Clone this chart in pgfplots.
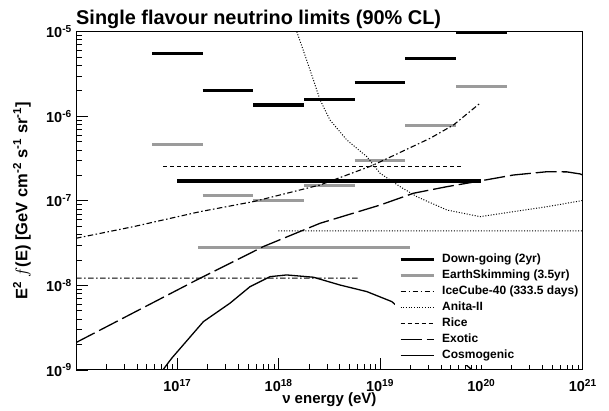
\documentclass[border=0pt]{standalone}
\usepackage{fontspec}
\setmainfont{Liberation Sans}
\usepackage{pgfplots}
\pgfplotsset{compat=1.18}
\definecolor{esgray}{RGB}{155,155,155}
\newcommand\lf{\bfseries\fontsize{12}{14}\selectfont}
\begin{document}
\begin{tikzpicture}
\begin{axis}[
  set layers,
  xmode=log, ymode=log,
  scale only axis, width=506.7pt, height=338.3pt,
  xmin=1e16, xmax=1e21, ymin=1e-9, ymax=1e-5,
  xtick={1e16,1e17,1e18,1e19,1e20,1e21},
  xticklabels={,10\textsuperscript{17},10\textsuperscript{18},10\textsuperscript{19},10\textsuperscript{20},10\textsuperscript{21}},
  ytick={1e-9,1e-8,1e-7,1e-6,1e-5},
  yticklabels={10\textsuperscript{-9},10\textsuperscript{-8},10\textsuperscript{-7},10\textsuperscript{-6},10\textsuperscript{-5}},
  tick align=inside, tick pos=left,
  major tick length=12pt, minor tick length=6pt,
  every tick/.style={black, line width=0.8pt},
  axis line style={line width=1pt},
  tick label style={font=\bfseries\fontsize{14.5}{16}\selectfont},
  xticklabel style={anchor=base, inner sep=0pt, yshift=-21.7pt},
  yticklabel style={anchor=east, inner sep=0pt, xshift=-4pt},
  title={Single flavour neutrino limits (90\% CL)},
  title style={at={(0,1)}, anchor=base west, inner sep=0pt, yshift=1.5pt, font=\bfseries\fontsize{19.9}{22}\selectfont},
  xlabel={ν energy (eV)},
  xlabel style={at={(axis description cs:0.5,0)}, anchor=base, inner sep=0pt, yshift=-34pt, font=\bfseries\fontsize{15}{17}\selectfont},
  ylabel={E\textsuperscript{2} $f$(E) [GeV cm\textsuperscript{-2} s\textsuperscript{-1} sr\textsuperscript{-1}]},
  ylabel style={at={(axis description cs:-0.1066,0.5)}, anchor=center, inner sep=0pt, font=\bfseries\fontsize{16.5}{18}\selectfont},
  unbounded coords=jump,
  legend image code/.code={\draw[#1] (0pt,0pt) -- (33pt,0pt);},
  legend style={at={(0.629,0.355)}, anchor=north west, fill=white, draw=none,
    inner sep=4pt, row sep=4.4pt, column sep=7pt,
    font=\lf,
    nodes={inner sep=0pt, text height=8.8pt, text depth=2.7pt}},
  legend cell align=left,
]
% Down-going (2yr)
\addplot[black, line width=3.3pt] coordinates {
 (5.6234e16,5.56e-6) (1.7783e17,5.56e-6) (1.7783e17,nan)
 (1.7783e17,2.01e-6) (5.6234e17,2.01e-6) (5.6234e17,nan)
 (5.6234e17,1.36e-6) (1.7783e18,1.36e-6) (1.7783e18,nan)
 (1.7783e18,1.59e-6) (5.6234e18,1.59e-6) (5.6234e18,nan)
 (5.6234e18,2.52e-6) (1.7783e19,2.52e-6) (1.7783e19,nan)
 (1.7783e19,4.84e-6) (5.6234e19,4.84e-6) (5.6234e19,nan)
 (5.6234e19,9.8e-6) (1.7783e20,9.8e-6) (1.7783e20,nan)
 (1e17,1.72e-7) (1e20,1.72e-7)
};
\addlegendentry{\lf Down-going (2yr)}
% EarthSkimming (3.5yr)
\addplot[esgray, line width=3pt] coordinates {
 (5.6234e16,4.6e-7) (1.7783e17,4.6e-7) (1.7783e17,nan)
 (1.7783e17,1.16e-7) (5.6234e17,1.16e-7) (5.6234e17,nan)
 (5.6234e17,1.0e-7) (1.7783e18,1.0e-7) (1.7783e18,nan)
 (1.7783e18,1.5e-7) (5.6234e18,1.5e-7) (5.6234e18,nan)
 (5.6234e18,3.04e-7) (1.7783e19,3.04e-7) (1.7783e19,nan)
 (1.7783e19,7.7e-7) (5.6234e19,7.7e-7) (5.6234e19,nan)
 (5.6234e19,2.24e-6) (1.7783e20,2.24e-6) (1.7783e20,nan)
 (1.61e17,2.8e-8) (1.98e19,2.8e-8)
};
\addlegendentry{\lf EarthSkimming (3.5yr)}
% IceCube-40
\addplot[black, line width=1.1pt, dash pattern=on 5.5pt off 2.5pt on 1.5pt off 2.5pt] coordinates {
 (1e16,3.61e-8) (3.68e16,4.95e-8) (1.675e17,7.45e-8) (5.62e17,9.79e-8)
 (2.56e18,1.54e-7) (8.3e18,2.6e-7) (3.13e19,5.5e-7) (5.31e19,7.89e-7) (9.73e19,1.43e-6)
 (9.73e19,nan)
 (1e16,1.22e-8) (6.3e18,1.22e-8)
};
\addlegendentry{\lf IceCube-40 (333.5 days)\hspace{6pt}}
% Anita-II
\addplot[black, line width=1pt, dash pattern=on 1pt off 1.7pt] coordinates {
 (1.51e18,1e-5) (2.04e18,3.52e-6) (2.56e18,1.56e-6) (3.21e18,9.03e-7)
 (4.70e18,5.25e-7) (7.41e18,3.33e-7) (1.0e19,2.12e-7) (1.58e19,1.47e-7)
 (2.31e19,1.12e-7) (4.56e19,7.80e-8) (9.73e19,6.50e-8) (2.07e20,7.45e-8)
 (4.44e20,8.53e-8) (1e21,1.01e-7)
 (1e21,nan)
 (9.93e17,4.41e-8) (1e21,4.41e-8)
};
\addlegendentry{\lf Anita-II}
% Rice
\addplot[black, line width=1.2pt, dash pattern=on 4pt off 3pt] coordinates {
 (7.28e16,2.54e-7) (6.41e19,2.54e-7)
};
\addlegendentry{\lf Rice}
% Exotic
\addplot[black, line width=1.3pt, dash pattern=on 21pt off 5pt] coordinates {
 (1e16,2.11e-9) (1.552e17,1.16e-8) (3.57e17,1.91e-8) (7.06e17,2.88e-8)
 (2.56e18,5.43e-8) (1.0e19,8.91e-8) (2.14e19,1.23e-7) (4.56e19,1.47e-7)
 (9.73e19,1.72e-7) (2.07e20,2.02e-7) (4.44e20,2.21e-7) (6.98e20,2.20e-7)
 (9.44e20,2.08e-7) (1e21,2.02e-7)
};
\addlegendentry{\lf Exotic}
% Cosmogenic
\addplot[black, line width=1.3pt] coordinates {
 (6.61e16,8.87e-10) (7.28e16,1.02e-9) (8.81e16,1.38e-9) (1.807e17,3.73e-9)
 (3.31e17,6.17e-9) (5.22e17,9.68e-9) (8.22e17,1.27e-8) (1.20e18,1.33e-8)
 (2.20e18,1.25e-8) (4.04e18,1.01e-8) (7.41e18,8.45e-9) (1.306e19,6.44e-9)
 (8.11e19,1.0e-9) (8.91e19,8.9e-10)
};
\addlegendentry{\lf Cosmogenic}
\end{axis}
\pgfresetboundingbox
\path (-76pt,-41pt) rectangle (533pt,370pt);
\end{tikzpicture}
\end{document}
